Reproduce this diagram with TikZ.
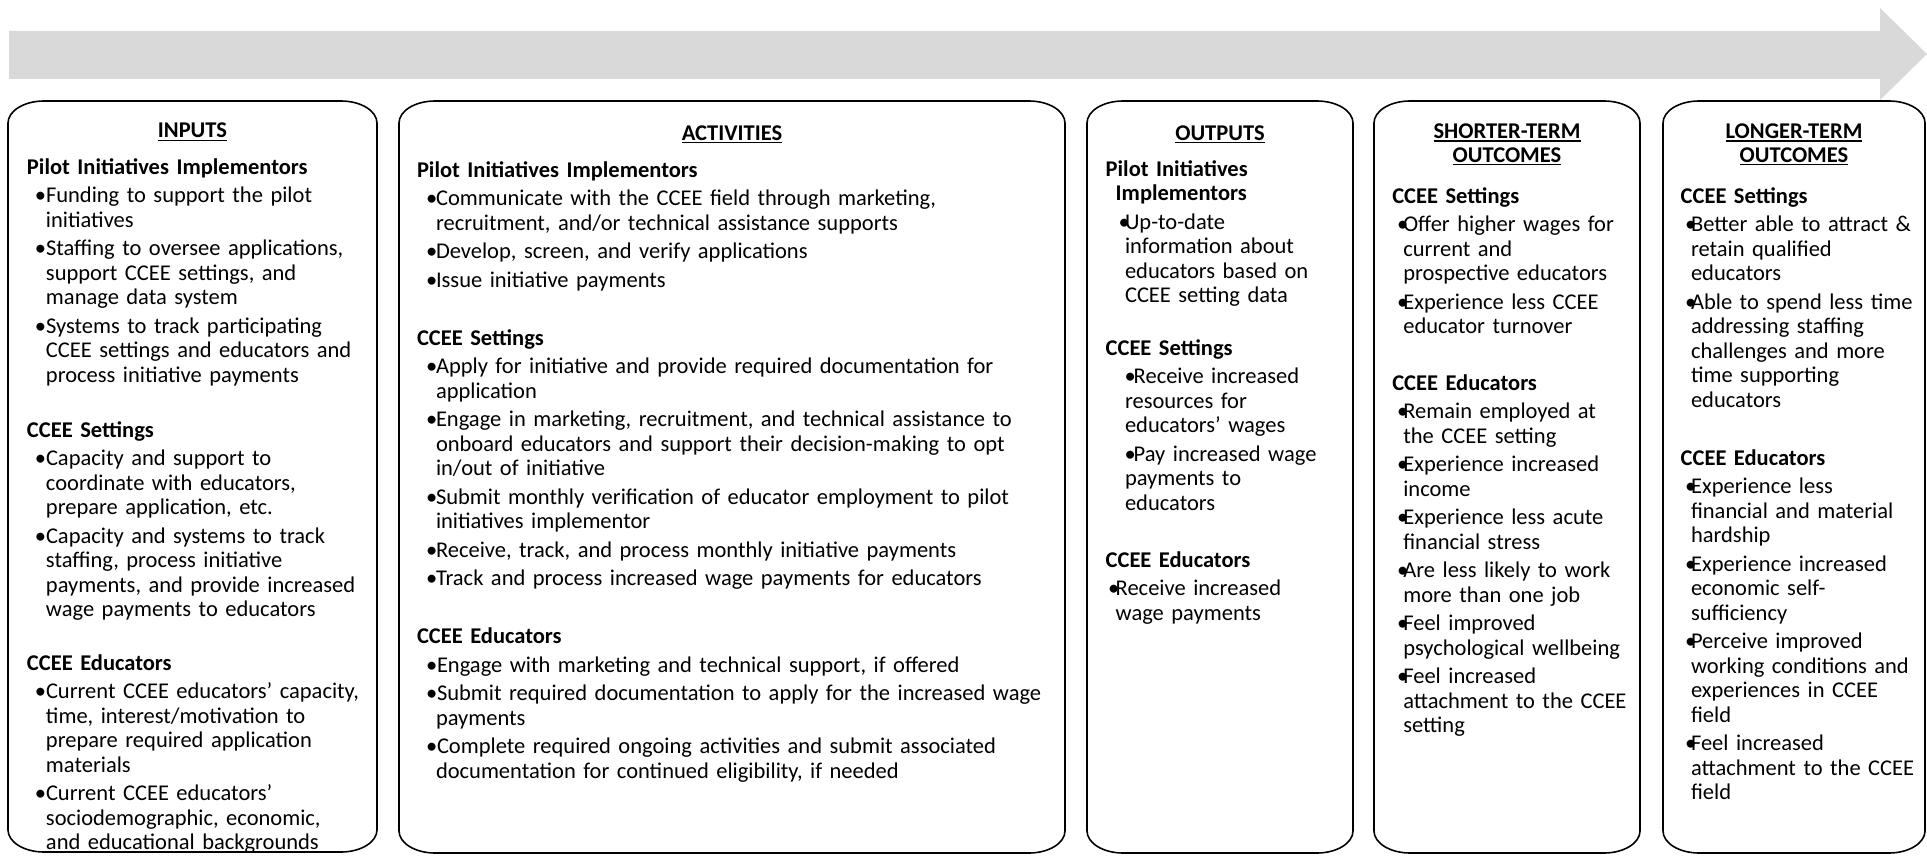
\documentclass[tikz,border=0pt]{standalone}
\usepackage{fontspec}
\setmainfont{Carlito}
\definecolor{arrowgray}{HTML}{D9D9D9}
\newlength\itemgap \setlength\itemgap{4pt}
\newcommand\bodysize{\fontsize{22.5pt}{24.5pt}\selectfont}
\newcommand\ulx[1]{\setbox0\hbox{#1}\rlap{\rule[-3pt]{\wd0}{1.5pt}}\box0}
\newcommand\hdr[1]{\noindent\textbf{#1}\par}
% #1 bullet offset, #2 gap bullet->text, #3 continuation indent, #4 text
\newcommand\bitem[4]{\par\vspace{\itemgap}\hangindent=#3pt\hangafter=1\noindent\hspace*{#1pt}\rlap{\textbullet}\hspace*{#2pt}{\let\\\newline #4}\par}
\newcommand\rbox[4]{%
  \draw[boxline] (#1+36,#2) -- (#3-36,#2)
    .. controls (#3-16,#2) and (#3,#2+10) .. (#3,#2+22) -- (#3,#4-22)
    .. controls (#3,#4-10) and (#3-16,#4) .. (#3-36,#4) -- (#1+36,#4)
    .. controls (#1+16,#4) and (#1,#4-10) .. (#1,#4-22) -- (#1,#2+22)
    .. controls (#1,#2+10) and (#1+16,#2) .. cycle;}
\tikzset{
  boxline/.style={draw=black, line width=1.6pt},
  sec/.style={anchor=base west, inner sep=0pt, outer sep=0pt, text width=#1, align=left, font=\bodysize},
  ttl/.style={anchor=base, inner sep=0pt, outer sep=0pt, font=\bodysize\bfseries}
}
\begin{document}
\begin{tikzpicture}[x=1pt,y=-1pt]
\useasboundingbox (0,0) rectangle (1927,856);
\fill[white] (0,0) rectangle (1927,856);
% timeline arrow
\fill[arrowgray] (9,31) -- (1880,31) -- (1880,8) -- (1927,54) -- (1880,100) -- (1880,79) -- (9,79) -- cycle;
% boxes
\rbox{8}{101}{377}{852}
\rbox{399}{101}{1065}{853}
\rbox{1087}{101}{1353}{853}
\rbox{1374}{101}{1640}{853}
\rbox{1663}{101}{1925}{853}

% ---------- INPUTS ----------
\node[ttl] (tin) at (192.5,138) {\ulx{INPUTS}};
\node[sec=345pt] (in1) at (27,174) {\hdr{Pilot Initiatives Implementors}
\bitem{8}{11}{19}{Funding to support the pilot\\initiatives}
\bitem{8}{11}{19}{Staffing to oversee applications,\\support CCEE settings, and\\manage data system}
\bitem{8}{11}{19}{Systems to track participating\\CCEE settings and educators and\\process initiative payments}};
\node[sec=345pt] (in2) at (27,437) {\hdr{CCEE Settings}
\bitem{8}{11}{19}{Capacity and support to\\coordinate with educators,\\prepare application, etc.}
\bitem{8}{11}{19}{Capacity and systems to track\\staffing, process initiative\\payments, and provide increased\\wage payments to educators}};
\node[sec=345pt] (in3) at (27,670) {\hdr{CCEE Educators}
\bitem{8}{11}{19}{Current CCEE educators’ capacity,\\time, interest/motivation to\\prepare required application\\materials}
\bitem{8}{11}{19}{Current CCEE educators’\\sociodemographic, economic,\\and educational backgrounds}};

% ---------- ACTIVITIES ----------
\node[ttl] (tact) at (732,140) {\ulx{ACTIVITIES}};
\node[sec=630pt] (ac1) at (417,177) {\hdr{Pilot Initiatives Implementors}
\bitem{9}{10}{19}{Communicate with the CCEE field through marketing,\\recruitment, and/or technical assistance supports}
\bitem{9}{10}{19}{Develop, screen, and verify applications}
\bitem{9}{10}{19}{Issue initiative payments}};
\node[sec=630pt] (ac2) at (417,345.3) {\hdr{CCEE Settings}
\bitem{9}{10}{19}{Apply for initiative and provide required documentation for\\application}
\bitem{9}{10}{19}{Engage in marketing, recruitment, and technical assistance to\\onboard educators and support their decision-making to opt\\in/out of initiative}
\bitem{9}{10}{19}{Submit monthly verification of educator employment to pilot\\initiatives implementor}
\bitem{9}{10}{19}{Receive, track, and process monthly initiative payments}
\bitem{9}{10}{19}{Track and process increased wage payments for educators}};
\node[sec=630pt] (ac3) at (417,643.7) {\hdr{CCEE Educators}
\bitem{9}{11}{19}{Engage with marketing and technical support, if offered}
\bitem{9}{11}{19}{Submit required documentation to apply for the increased wage\\payments}
\bitem{9}{11}{19}{Complete required ongoing activities and submit associated\\documentation for continued eligibility, if needed}};

% ---------- OUTPUTS ----------
\node[ttl] (tout) at (1220,140) {\ulx{OUTPUTS}};
\node[sec=240pt] (ou1) at (1105.7,176) {\hangindent=10pt\hangafter=1\noindent\textbf{Pilot Initiatives\newline Implementors}\par
\bitem{13}{6.3}{19.3}{Up-to-date\\information about\\educators based on\\CCEE setting data}};
\node[sec=240pt] (ou2) at (1105.7,355.3) {\hdr{CCEE Settings}
\bitem{19}{9}{19.3}{Receive increased\\resources for\\educators’ wages}
\bitem{19}{9}{19.3}{Pay increased wage\\payments to\\educators}};
\node[sec=240pt] (ou3) at (1105.7,567) {\hdr{CCEE Educators}
\bitem{2.5}{7.5}{10}{Receive increased\\wage payments}};

% ---------- SHORTER-TERM OUTCOMES ----------
\node[ttl] (tst1) at (1507,139) {\ulx{SHORTER-TERM}};
\node[ttl] (tst2) at (1507,162) {\ulx{OUTCOMES}};
\node[sec=245pt] (st1) at (1392.3,203) {\hdr{CCEE Settings}
\bitem{4.7}{6.3}{11}{Offer higher wages for\\current and\\prospective educators}
\bitem{4.7}{6.3}{11}{Experience less CCEE\\educator turnover}};
\node[sec=245pt] (st2) at (1392.3,390.3) {\hdr{CCEE Educators}
\bitem{4.7}{6.3}{11}{Remain employed at\\the CCEE setting}
\bitem{4.7}{6.3}{11}{Experience increased\\income}
\bitem{4.7}{6.3}{11}{Experience less acute\\financial stress}
\bitem{4.7}{6.3}{11}{Are less likely to work\\more than one job}
\bitem{4.7}{6.3}{11}{Feel improved\\psychological wellbeing}
\bitem{4.7}{6.3}{11}{Feel increased\\attachment to the CCEE\\setting}};

% ---------- LONGER-TERM OUTCOMES ----------
\node[ttl] (tlt1) at (1794,139) {\ulx{LONGER-TERM}};
\node[ttl] (tlt2) at (1794,162) {\ulx{OUTCOMES}};
\node[sec=240pt] (lt1) at (1680.7,203) {\hdr{CCEE Settings}
\bitem{4.3}{6}{10.3}{Better able to attract \&\\retain qualified\\educators}
\bitem{4.3}{6}{10.3}{Able to spend less time\\addressing staffing\\challenges and more\\time supporting\\educators}};
\node[sec=240pt] (lt2) at (1680.7,465.3) {\hdr{CCEE Educators}
\bitem{4.3}{6}{10.3}{Experience less\\financial and material\\hardship}
\bitem{4.3}{6}{10.3}{Experience increased\\economic self-\\sufficiency}
\bitem{4.3}{6}{10.3}{Perceive improved\\working conditions and\\experiences in CCEE\\field}
\bitem{4.3}{6}{10.3}{Feel increased\\attachment to the CCEE\\field}};
\end{tikzpicture}
\end{document}
